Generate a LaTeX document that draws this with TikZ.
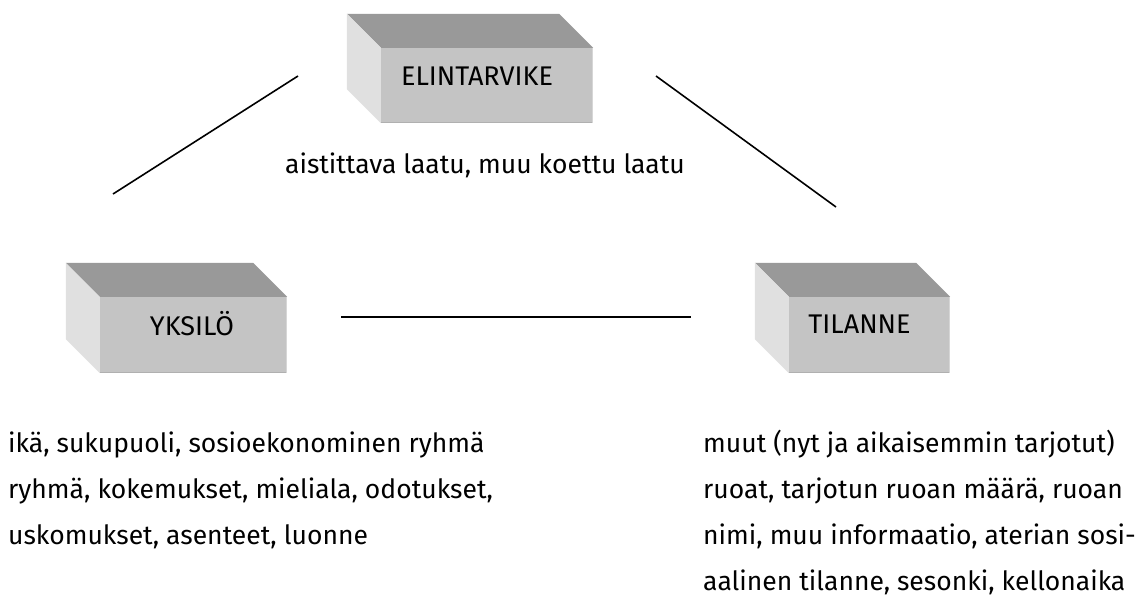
\documentclass[tikz,border=0pt]{standalone}
\usepackage{fontspec}
\setmainfont{Fira Sans}
\usetikzlibrary{calc}
\definecolor{kansi}{RGB}{153,153,153}
\definecolor{kylki}{RGB}{224,224,224}
\definecolor{etupuoli}{RGB}{196,196,196}
\definecolor{pohja}{RGB}{176,176,176}
\definecolor{reuna}{RGB}{214,214,214}
\tikzset{
  etu/.style={fill=etupuoli, inner sep=0pt, minimum height=76pt},
  nimi/.style={font=\fontsize{27}{30}\selectfont, inner sep=0pt},
  teksti/.style={font=\fontsize{26.5}{30}\selectfont, inner sep=0pt, anchor=base west},
  viiva/.style={line width=1.6pt}
}
% top and left face of a box whose front face is node #1
\newcommand{\kuutio}[1]{%
  \fill[kansi] (#1.north west) -- ++(-34,-34) -- ($(#1.north east)+(-34,-34)$) -- (#1.north east) -- cycle;
  \fill[kylki] (#1.north west) -- ++(-34,-34) -- ($(#1.south west)+(-34,-34)$) -- (#1.south west) -- cycle;
  \draw[pohja, line width=1.5pt] ($(#1.south west)+(0,-0.75)$) -- ($(#1.south east)+(0,-0.75)$);
  \draw[reuna, line width=1.5pt] ($(#1.north east)+(-0.75,0)$) -- ($(#1.south east)+(-0.75,0)$);
}
\begin{document}
\begin{tikzpicture}[x=1pt, y=-1pt]
\useasboundingbox (0,0) rectangle (1136,595);

% boxes
\node[etu, minimum width=212pt, minimum height=75pt] (elin) at (487,85.5) {};
\node[etu, minimum width=187pt] (yksi) at (193.5,335) {};
\node[etu, minimum width=161pt] (tila) at (869.5,335) {};
\kuutio{elin}
\kuutio{yksi}
\kuutio{tila}
\node[nimi] (elinT) at ($(elin)+(-10,-9.5)$) {ELINTARVIKE};
\node[nimi] (yksiT) at ($(yksi)+(-1.5,-11)$) {YKSILÖ};
\node[nimi] (tilaT) at ($(tila)+(-10,-11)$) {TILANNE};

% connecting lines
\coordinate (e1) at (298,76);
\coordinate (y1) at (113,194);
\coordinate (e2) at (656,76);
\coordinate (t1) at (836,207);
\coordinate (y2) at (341,317);
\coordinate (t2) at (691,317);
\draw[viiva] (e1) -- (y1);
\draw[viiva] (e2) -- (t1);
\draw[viiva] (y2) -- (t2);

% descriptions
\node[teksti, anchor=base] (laatu) at (485,173) {aistittava laatu, muu koettu laatu};
\foreach \t [count=\i] in {{ikä, sukupuoli, sosioekonominen ryhmä},
    {ryhmä, kokemukset, mieliala, odotukset,},
    {uskomukset, asenteet, luonne}}
  \node[teksti] (yk\i) at (8,406+46*\i) {\t};
\foreach \t [count=\i] in {{muut (nyt ja aikaisemmin tarjotut)},
    {ruoat, tarjotun ruoan määrä, ruoan},
    {nimi, muu informaatio, aterian sosi-},
    {aalinen tilanne, sesonki, kellonaika}}
  \node[teksti] (ti\i) at (703,406+46*\i) {\t};
\end{tikzpicture}
\end{document}
